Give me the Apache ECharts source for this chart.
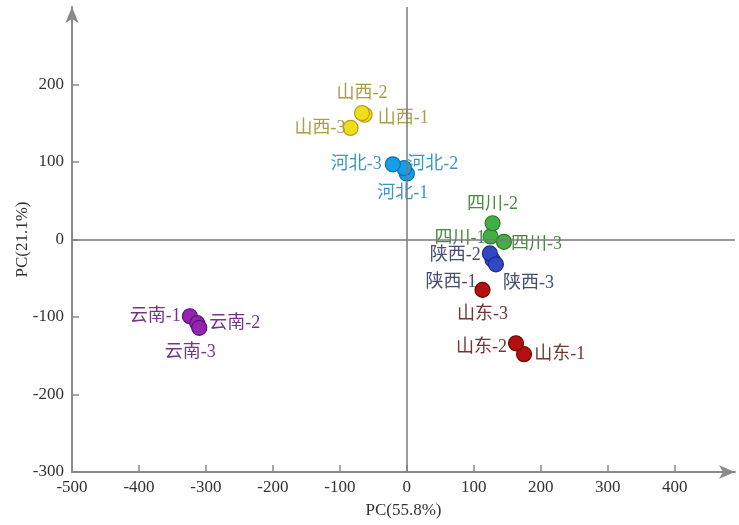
<!DOCTYPE html>
<html><head><meta charset="utf-8">
<script src="https://cdn.jsdelivr.net/npm/echarts@6/dist/echarts.min.js"></script>
<style>html,body{margin:0;padding:0;background:#fff}#c{width:739px;height:525px}</style>
</head><body><div id="c"></div>
<script>
// Groups (provinces) and sample points
const groups = ['山西','河北','四川','陕西','山东','云南'];
const pointNames = ['山西-1','山西-2','山西-3','河北-1','河北-2','河北-3','四川-1','四川-2','四川-3','陕西-1','陕西-2','陕西-3','山东-1','山东-2','山东-3','云南-1','云南-2','云南-3'];
const pointGroup = ['山西','山西','山西','河北','河北','河北','四川','四川','四川','陕西','陕西','陕西','山东','山东','山东','云南','云南','云南'];
const pcX = [-63,-67,-84, 0,-4,-21, 125,128,145, 128,124,133, 175,163,113, -324,-313,-310];
const pcY = [161,163,144, 85,92,97, 4,21,-3, -26,-18,-32, -148,-134,-65, -99,-108,-114];
const xTicks = [-500,-400,-300,-200,-100,0,100,200,300,400];
const yTicks = [-300,-200,-100,0,100,200];

// styling
const fill = {'山西':'#f2dc1e','河北':'#169fe6','四川':'#45ad45','陕西':'#3048c4','山东':'#b41010','云南':'#9424b4'};
const edge = {'山西':'#b8a010','河北':'#0a70b0','四川':'#2c7c2c','陕西':'#1c2c8c','山东':'#700808','云南':'#601078'};
const lblColor = {'山西':'#a8a048','河北':'#3a98c0','四川':'#4a8a40','陕西':'#444c78','山东':'#743434','云南':'#743488'};
const lblPos = {
 '山西-1':['right',[0,4]],'山西-2':['top',[0,2]],'山西-3':['left',[8,0]],
 '河北-1':['bottom',[-4,-2]],'河北-2':['right',[-10,-4]],'河北-3':['left',[2,0]],
 '四川-1':['left',[8,2]],'四川-2':['top',[0,3]],'四川-3':['right',[-6,2]],
 '陕西-1':['left',[-3,23]],'陕西-2':['left',[4,2]],'陕西-3':['right',[-6,19]],
 '山东-1':['right',[-3,0]],'山东-2':['left',[4,4]],'山东-3':['bottom',[0,2]],
 '云南-1':['left',[4,0]],'云南-2':['right',[-1,0]],'云南-3':['bottom',[-9,2]]
};

const serif = '"Liberation Serif","Times New Roman",serif';
const series = groups.map(g => ({
  type:'scatter', name:g, symbolSize:15,
  itemStyle:{color:fill[g], borderColor:edge[g], borderWidth:1.2, opacity:1},
  label:{show:true, color:lblColor[g], fontSize:18, fontFamily:'"Liberation Serif","Noto Sans CJK SC",serif', formatter:p=>p.data.name},
  data: pointNames.map((n,i)=>({n,i})).filter(o=>pointGroup[o.i]===g).map(o=>({
    name:o.n, value:[pcX[o.i], pcY[o.i]],
    label:{position:lblPos[o.n][0], offset:lblPos[o.n][1]}
  })),
  z:3
}));
series.push({
  type:'scatter', data:[], silent:true,
  markLine:{silent:true, symbol:['none','none'], label:{show:false},
    lineStyle:{color:'#7a7a7a', width:1.5, type:'solid'},
    data:[{xAxis:0},{yAxis:0}]}
});

const chart = echarts.init(document.getElementById('c'));
chart.setOption({
  animation:false,
  grid:{left:72, right:4, top:7, bottom:53, containLabel:false, outerBoundsMode:'none'},
  xAxis:{type:'value', min:-500, max:490, interval:100,
    name:'PC(55.8%)', nameLocation:'middle', nameGap:30, nameMoveOverlap:false,
    nameTextStyle:{fontFamily:serif, fontSize:17, color:'#333'},
    axisLine:{show:true, onZero:false, symbol:['none','arrow'], symbolSize:[10,16], lineStyle:{color:'#8a8a8a', width:2}},
    axisTick:{show:true, inside:true, length:7, lineStyle:{color:'#8a8a8a', width:1.5}},
    axisLabel:{fontFamily:serif, fontSize:17, color:'#333', margin:7, showMaxLabel:false,
      formatter:v=> xTicks.includes(v)? String(v):''},
    splitLine:{show:false}
  },
  yAxis:{type:'value', min:-300, max:300, interval:100,
    name:'PC(21.1%)', nameLocation:'middle', nameGap:41, nameRotate:90, nameMoveOverlap:false,
    nameTextStyle:{fontFamily:serif, fontSize:17, color:'#333'},
    axisLine:{show:true, onZero:false, symbol:['none','arrow'], symbolSize:[10,16], lineStyle:{color:'#8a8a8a', width:2}},
    axisTick:{show:true, inside:true, length:7, lineStyle:{color:'#8a8a8a', width:1.5}},
    axisLabel:{fontFamily:serif, fontSize:17, color:'#333', margin:8, showMaxLabel:false,
      formatter:v=> yTicks.includes(v)? String(v):''},
    splitLine:{show:false}
  },
  series
});
</script></body></html>
